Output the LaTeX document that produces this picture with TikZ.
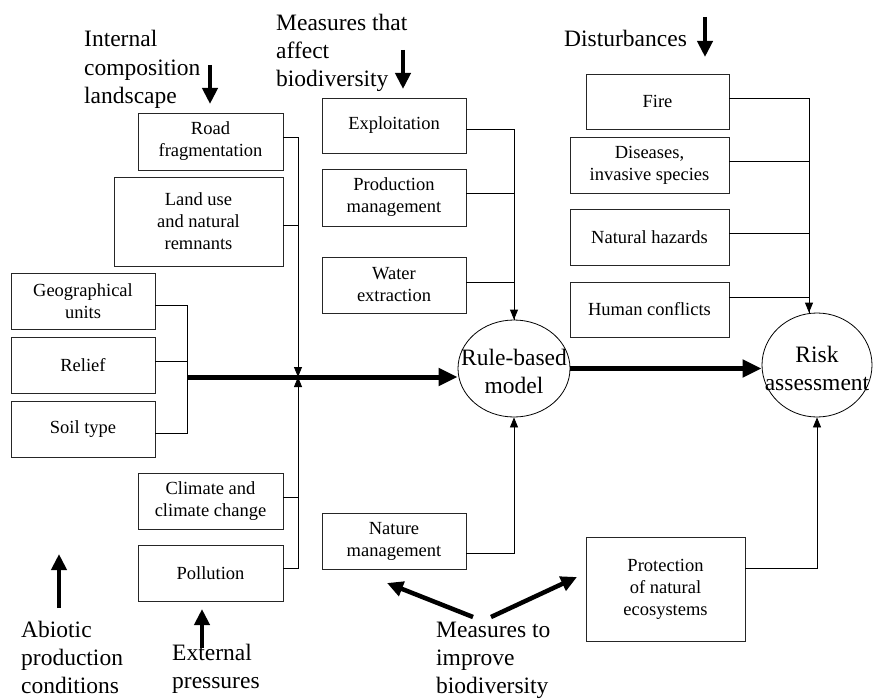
\documentclass[tikz,border=0pt]{standalone}
\usepackage{fontspec}
\setmainfont{Liberation Serif}
\usepackage{tikz}
\usetikzlibrary{arrows.meta,shapes.geometric,positioning}

\newcommand\boxfont{\fontsize{18.5pt}{22pt}\selectfont}
\newcommand\lblfont{\fontsize{23.5pt}{28pt}\selectfont}

\begin{document}
\begin{tikzpicture}[x=1pt,y=-1pt,
    box/.style={draw=black!85, line width=0.9pt, align=center, inner sep=0pt, font=\boxfont},
    conn/.style={line width=0.8pt, -{Triangle[width=8pt,length=10pt]}},
    link/.style={line width=0.8pt},
    mainarrow/.style={line width=5pt, -{Triangle[width=17pt,length=19pt]}},
    fatarrow/.style={line width=4.5pt, -{Triangle[width=15pt,length=16pt]}},
    lbl/.style={align=left, inner sep=0pt, font=\lblfont, anchor=base west}]
    \useasboundingbox (0,0) rectangle (874,698);

    % labels (anchored on the last line)
    \node[lbl] (intlbl) at (84,103) {Internal\\composition\\landscape};
    \node[lbl] (afflbl) at (276,87) {Measures that\\affect\\biodiversity};
    \node[lbl] (distlbl) at (564,47) {Disturbances};
    \node[lbl] (abiolbl) at (21,693) {Abiotic\\production\\conditions};
    \node[lbl] (extlbl) at (172,688) {External\\pressures};
    \node[lbl] (implbl) at (436,693) {Measures to\\improve\\biodiversity};

    % boxes
    \node[box, minimum width=145pt, minimum height=57pt] (road) at (210.5,141.5) {Road\\fragmentation};
    \node[box, minimum width=169pt, minimum height=89pt] (landuse) at (198.5,221.5) {Land use\\and natural\\remnants};
    \node[box, minimum width=144pt, minimum height=56pt] (geo) at (83,301) {Geographical\\units};
    \node[box, minimum width=144pt, minimum height=56pt] (relief) at (83,365) {Relief};
    \node[box, minimum width=144pt, minimum height=56pt] (soil) at (83,429) {Soil type};
    \node[box, minimum width=145pt, minimum height=56pt] (climate) at (210.5,501) {Climate and\\climate change};
    \node[box, minimum width=145pt, minimum height=56pt] (pollution) at (210.5,573) {Pollution};
    \node[box, minimum width=144pt, minimum height=55pt] (exploit) at (394,125.5) {Exploitation};
    \node[box, minimum width=144pt, minimum height=57pt] (prodman) at (394,197.5) {Production\\management};
    \node[box, minimum width=144pt, minimum height=56pt] (water) at (394,285) {Water\\extraction};
    \node[box, minimum width=144pt, minimum height=56pt] (natman) at (394,541) {Nature\\management};
    \node[box, minimum width=143pt, minimum height=55pt] (fire) at (657.5,101.5) {Fire};
    \node[box, minimum width=159pt, minimum height=56pt] (diseases) at (649.5,165) {Diseases,\\invasive species};
    \node[box, minimum width=159pt, minimum height=56pt] (hazards) at (649.5,237) {Natural hazards};
    \node[box, minimum width=159pt, minimum height=55pt] (conflicts) at (649.5,309.5) {Human conflicts};
    \node[box, minimum width=159pt, minimum height=104pt] (protect) at (665.5,589) {Protection\\of natural\\ecosystems};

    % models
    \node[draw, ellipse, line width=0.8pt, minimum width=112pt, minimum height=97pt, inner sep=0pt] (rule) at (514,368.5) {};
    \node[font=\lblfont, align=center, inner sep=0pt] (ruletxt) at (514,371) {Rule-based\\model};
    \node[draw, ellipse, line width=0.8pt, minimum width=110pt, minimum height=104pt, inner sep=0pt] (risk) at (817,365) {};
    \node[font=\lblfont, align=center, inner sep=0pt] (risktxt) at (817,368) {Risk\\assessment};

    % junctions
    \coordinate (abus) at (187,377);
    \coordinate (ibus) at (298,377);
    \coordinate (dbus) at ([xshift=-8pt]risk.north);

    % abiotic group
    \draw[link] ([yshift=-4pt]geo.east) -| ([yshift=-4pt]soil.east -| abus) -- ([yshift=-4pt]soil.east);
    \draw[link] ([yshift=4pt]relief.east) -| (abus);
    \draw[mainarrow] (abus) -- (abus -| rule.west);

    % internal and external
    \draw[conn] ([yshift=4.5pt]road.east) -| (ibus);
    \draw[link] ([yshift=-3.5pt]landuse.east) -| (ibus);
    \draw[conn] ([yshift=5pt]pollution.east) -| (ibus);
    \draw[link] ([yshift=4pt]climate.east) -| (ibus);

    % measures
    \draw[conn] ([yshift=-3.5pt]exploit.east) -| (rule.north);
    \draw[link] ([yshift=4.5pt]prodman.east) -| (rule.north);
    \draw[link] ([yshift=3pt]water.east) -| (rule.north);
    \draw[conn] ([yshift=-12pt]natman.east) -| (rule.south);

    % disturbances
    \draw[conn] ([yshift=3.5pt]fire.east) -| (dbus);
    \draw[link] ([yshift=4pt]diseases.east) -| (dbus);
    \draw[link] ([yshift=4pt]hazards.east) -| (dbus);
    \draw[link] ([yshift=12.5pt]conflicts.east) -| (dbus);
    \draw[conn] ([yshift=21pt]protect.east) -| (risk.south);

    \draw[mainarrow] (rule.east) -- (rule.east -| risk.west);

    % label arrows
    \coordinate (ia) at (210,65);
    \coordinate (aa) at (403,50);
    \coordinate (da) at (705,17);
    \coordinate (ba) at (59,608);
    \coordinate (ea) at (202,648);
    \coordinate (ma) at (473,617);
    \coordinate (mb) at (491,617);
    \draw[fatarrow] (ia) -- ++(0,39);
    \draw[fatarrow] (aa) -- ++(0,39);
    \draw[fatarrow] (da) -- ++(0,40);
    \draw[fatarrow] (ba) -- ++(0,-54);
    \draw[fatarrow] (ea) -- ++(0,-39);
    \draw[fatarrow] (ma) -- (387,583);
    \draw[fatarrow] (mb) -- (577,577);
\end{tikzpicture}
\end{document}
